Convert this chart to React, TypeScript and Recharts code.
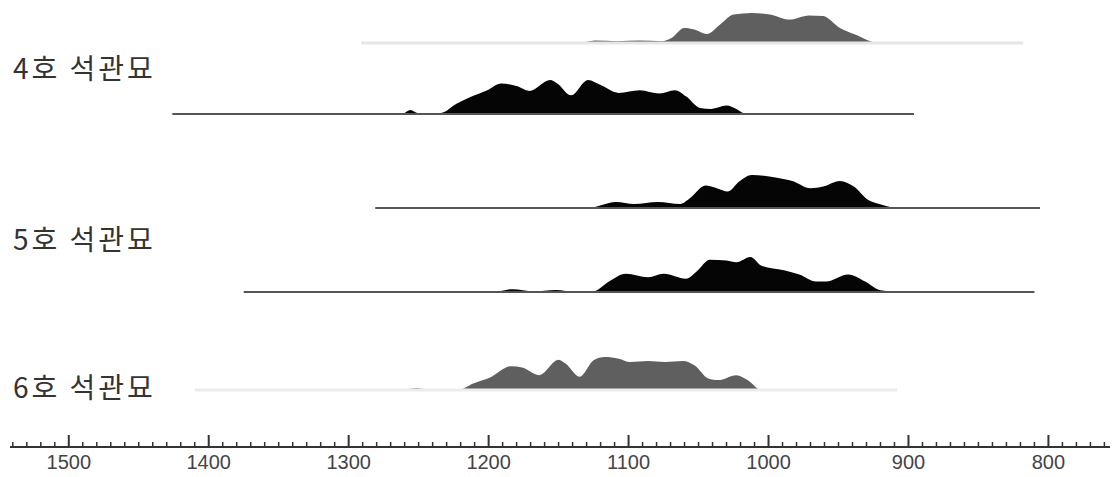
import { ComposedChart, Area, XAxis, YAxis, ReferenceLine } from 'recharts';

// calibrated age distributions (cal BP), relative probability 0..1
const tomb4aYears = [1291, 1136, 1124, 1108, 1092, 1076, 1070, 1060, 1053, 1044, 1035, 1025, 1012, 999, 985, 971, 961, 949, 939, 921, 818];
const tomb4aDensity = [0, 0, 0.08, 0.06, 0.08, 0.06, 0.15, 0.5, 0.45, 0.3, 0.6, 0.95, 1.0, 0.95, 0.78, 0.92, 0.9, 0.5, 0.3, 0, 0];

const tomb4bYears = [1426, 1262, 1256, 1250, 1234, 1223, 1213, 1201, 1191, 1180, 1171, 1156, 1151, 1141, 1129, 1120, 1107, 1092, 1078, 1067, 1059, 1049, 1041, 1030, 1023, 1016, 896];
const tomb4bDensity = [0, 0, 0.12, 0.02, 0.03, 0.3, 0.5, 0.7, 0.9, 0.82, 0.68, 1.0, 0.9, 0.55, 1.0, 0.85, 0.62, 0.7, 0.6, 0.7, 0.52, 0.18, 0.15, 0.25, 0.15, 0, 0];

const tomb5aYears = [1281, 1129, 1109, 1096, 1079, 1063, 1056, 1045, 1037, 1029, 1021, 1012, 994, 983, 970, 961, 949, 939, 929, 919, 907, 806];
const tomb5aDensity = [0, 0, 0.18, 0.12, 0.18, 0.12, 0.3, 0.68, 0.6, 0.5, 0.8, 1.0, 0.92, 0.82, 0.6, 0.65, 0.82, 0.65, 0.25, 0.1, 0, 0];

const tomb5bYears = [1375, 1196, 1183, 1168, 1152, 1138, 1125, 1114, 1102, 1086, 1075, 1059, 1051, 1042, 1030, 1023, 1013, 1005, 989, 978, 966, 959, 943, 931, 920, 904, 810];
const tomb5bDensity = [0, 0, 0.08, 0.02, 0.06, 0, 0.02, 0.3, 0.52, 0.42, 0.52, 0.38, 0.6, 0.92, 0.9, 0.85, 1.0, 0.75, 0.62, 0.5, 0.3, 0.3, 0.5, 0.3, 0.05, 0, 0];

const tomb6Years = [1410, 1262, 1252, 1240, 1222, 1211, 1199, 1184, 1176, 1164, 1150, 1145, 1135, 1125, 1117, 1107, 1099, 1086, 1074, 1061, 1053, 1043, 1036, 1023, 1015, 1005, 908];
const tomb6Density = [0, 0, 0.05, 0, 0, 0.2, 0.38, 0.72, 0.68, 0.45, 0.92, 0.8, 0.4, 0.9, 1.0, 0.95, 0.85, 0.88, 0.85, 0.88, 0.75, 0.35, 0.3, 0.45, 0.3, 0, 0];

const groupLabels = ['4호 석관묘', '5호 석관묘', '6호 석관묘'];
const majorTicks = [1500, 1400, 1300, 1200, 1100, 1000, 900, 800];

const W = 1112;
const H = 477;
const AXIS_H = 30;
const PLOT_H = H - AXIS_H;

// drawing setup per distribution: baseline in page px, peak height in px
const rows = [
  { key: 't4a', years: tomb4aYears, density: tomb4aDensity, baseY: 43, height: 30, fill: '#5f5f5f', line: '#e6e6e6', lineW: 3 },
  { key: 't4b', years: tomb4bYears, density: tomb4bDensity, baseY: 114, height: 34, fill: '#050505', line: '#555', lineW: 2 },
  { key: 't5a', years: tomb5aYears, density: tomb5aDensity, baseY: 208, height: 33, fill: '#050505', line: '#555', lineW: 2 },
  { key: 't5b', years: tomb5bYears, density: tomb5bDensity, baseY: 292, height: 35, fill: '#050505', line: '#555', lineW: 2 },
  { key: 't6', years: tomb6Years, density: tomb6Density, baseY: 390, height: 33, fill: '#5f5f5f', line: '#ececec', lineW: 3 },
];
const labelY = [67, 238, 386];

const minorTicks: number[] = [];
for (let y = 760; y <= 1540; y += 10) minorTicks.push(y);

const byYear = new Map<number, any>();
rows.forEach((r) => {
  const base = PLOT_H - r.baseY;
  r.years.forEach((yr, i) => {
    const row = byYear.get(yr) || { year: yr };
    row[r.key] = base + r.density[i] * r.height;
    byYear.set(yr, row);
  });
});
const data = Array.from(byYear.values()).sort((a, b) => a.year - b.year);

function Tick(props: any) {
  const { x, y, payload } = props;
  const major = majorTicks.includes(payload.value);
  return (
    <g>
      <line x1={x} x2={x} y1={y} y2={y - (major ? 12 : 5)} stroke="#333" strokeWidth={major ? 2 : 1.5} />
      {major && (
        <text x={x} y={y + 22} textAnchor="middle" fontSize={20} fill="#444" fontFamily="'Liberation Sans', Arial, sans-serif">
          {payload.value}
        </text>
      )}
    </g>
  );
}

export default function App() {
  return (
    <div style={{ position: 'fixed', left: 0, top: 0, width: W, height: H, background: '#fff' }}>
      <ComposedChart width={W} height={H} data={data} margin={{ top: 0, right: 2, bottom: 0, left: 10 }}>
        <XAxis
          type="number"
          dataKey="year"
          domain={[756, 1542]}
          reversed
          ticks={minorTicks}
          interval={0}
          height={AXIS_H}
          tickSize={0}
          tickMargin={0}
          tickLine={false}
          axisLine={{ stroke: '#333', strokeWidth: 2 }}
          tick={<Tick />}
        />
        <YAxis type="number" domain={[0, PLOT_H]} hide />
        {rows.map((r) => (
          <ReferenceLine
            key={r.key + '-base'}
            segment={[
              { x: r.years[0], y: PLOT_H - r.baseY },
              { x: r.years[r.years.length - 1], y: PLOT_H - r.baseY },
            ]}
            stroke={r.line}
            strokeWidth={r.lineW}
            ifOverflow="visible"
          />
        ))}
        {rows.map((r) => (
          <Area
            key={r.key}
            dataKey={r.key}
            type="monotone"
            baseValue={PLOT_H - r.baseY}
            connectNulls
            stroke="none"
            fill={r.fill}
            fillOpacity={1}
            isAnimationActive={false}
          />
        ))}
      </ComposedChart>
      {groupLabels.map((t, i) => (
        <span
          key={t}
          style={{
            position: 'absolute',
            left: 13,
            top: labelY[i] - 15,
            fontSize: 28,
            lineHeight: '30px',
            letterSpacing: 3,
            color: '#333',
            fontFamily: "'Noto Sans CJK KR', sans-serif",
            whiteSpace: 'nowrap',
          }}
        >
          {t}
        </span>
      ))}
    </div>
  );
}
